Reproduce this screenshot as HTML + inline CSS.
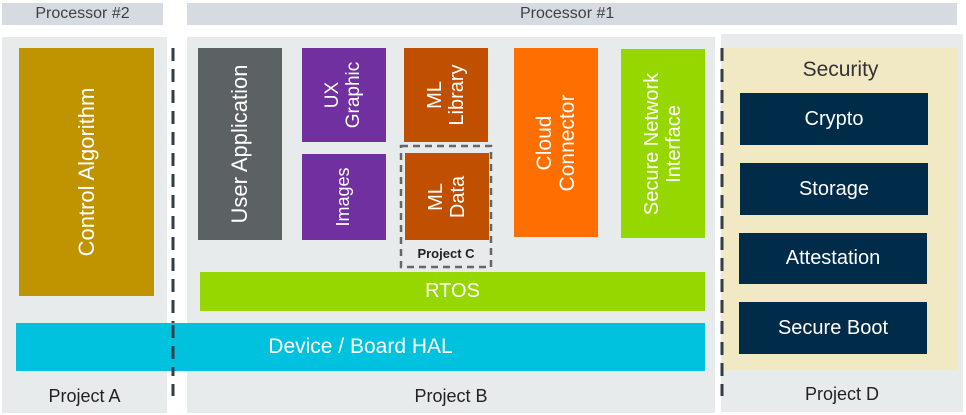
<!DOCTYPE html>
<html><head><style>
body{margin:0;width:966px;height:415px;background:#fff;position:relative;overflow:hidden;font-family:"Liberation Sans",sans-serif}
div{position:absolute;box-sizing:border-box}
.c{display:flex;align-items:center;justify-content:center;text-align:center;color:#fff}
.r{position:absolute;left:50%;top:50%;transform:translate(-50%,-50%) rotate(-90deg);white-space:nowrap;text-align:center;color:#fff;line-height:1.1}
.h{background:#d5dbe1;color:#404040;font-size:16px;display:flex;align-items:center;justify-content:center}
.p{background:#e7ebeb}
.lab{color:#222;font-size:18px;text-align:center}
.sec{background:#002b49;color:#fff;font-size:20px}
</style></head><body>
<div class="h" style="left:2px;top:3px;width:161px;height:22px">Processor #2</div>
<div class="h" style="left:187px;top:3px;width:770px;height:22px;justify-content:flex-start;padding-left:333px">Processor #1</div>
<div class="p" style="left:2px;top:37px;width:165px;height:376px"></div>
<div class="p" style="left:187px;top:37px;width:528px;height:376px"></div>
<div class="p" style="left:721px;top:34px;width:242px;height:378px"></div>
<div style="left:722px;top:48px;width:236px;height:322px;background:#f1e9c4"></div>
<div style="left:723px;top:58px;width:235px;font-size:21px;color:#333;text-align:center">Security</div>
<div class="c sec" style="left:740px;top:93px;width:188px;height:52px">Crypto</div>
<div class="c sec" style="left:740px;top:163px;width:188px;height:52px">Storage</div>
<div class="c sec" style="left:739px;top:233px;width:188px;height:51px">Attestation</div>
<div class="c sec" style="left:739px;top:302px;width:188px;height:52px">Secure Boot</div>

<div style="left:19px;top:48px;width:135px;height:248px;background:#c09400"><span class="r" style="font-size:22px">Control Algorithm</span></div>
<div style="left:198px;top:48px;width:84px;height:192px;background:#5c6264"><span class="r" style="font-size:22px">User Application</span></div>
<div style="left:302px;top:48px;width:84px;height:94px;background:#7030a0"><span class="r" style="font-size:19px">UX<br>Graphic</span></div>
<div style="left:302px;top:154px;width:84px;height:86px;background:#7030a0"><span class="r" style="font-size:18px">Images</span></div>
<div style="left:404px;top:48px;width:84px;height:94px;background:#c05000"><span class="r" style="font-size:20px">ML<br>Library</span></div>
<div style="left:405px;top:153px;width:84px;height:87px;background:#c05000"><span class="r" style="font-size:20px">ML<br>Data</span></div>
<svg style="position:absolute;left:0;top:0" width="966" height="415">
<rect x="401" y="146" width="90" height="121" fill="none" stroke="#666" stroke-width="2.5" stroke-dasharray="7,5"/>
<line x1="173" y1="48" x2="173" y2="396" stroke="#333d45" stroke-width="3" stroke-dasharray="13,8"/>
<line x1="722" y1="48" x2="722" y2="396" stroke="#333d45" stroke-width="3" stroke-dasharray="13,8"/>
</svg>
<div style="left:400px;top:246px;width:92px;font-size:13px;font-weight:bold;text-align:center;color:#222">Project C</div>
<div style="left:514px;top:48px;width:84px;height:189px;background:#ff6e00"><span class="r" style="font-size:21px">Cloud<br>Connector</span></div>
<div style="left:621px;top:49px;width:84px;height:189px;background:#97d700"><span class="r" style="font-size:20px">Secure Network<br>Interface</span></div>
<div class="c" style="left:200px;top:272px;width:505px;height:39px;background:#97d700;font-size:20px">RTOS</div>
<div class="c" style="left:16px;top:323px;width:689px;height:48px;background:#00c1de;font-size:21px">Device / Board HAL</div>
<svg style="position:absolute;left:0;top:0" width="966" height="415">
<line x1="173" y1="323" x2="173" y2="371" stroke="#333d45" stroke-width="3" stroke-dasharray="13,8" stroke-dashoffset="-275"/>
</svg>
<div class="lab" style="left:2px;top:386px;width:165px">Project A</div>
<div class="lab" style="left:187px;top:386px;width:528px">Project B</div>
<div class="lab" style="left:721px;top:384px;width:242px">Project D</div>
</body></html>
